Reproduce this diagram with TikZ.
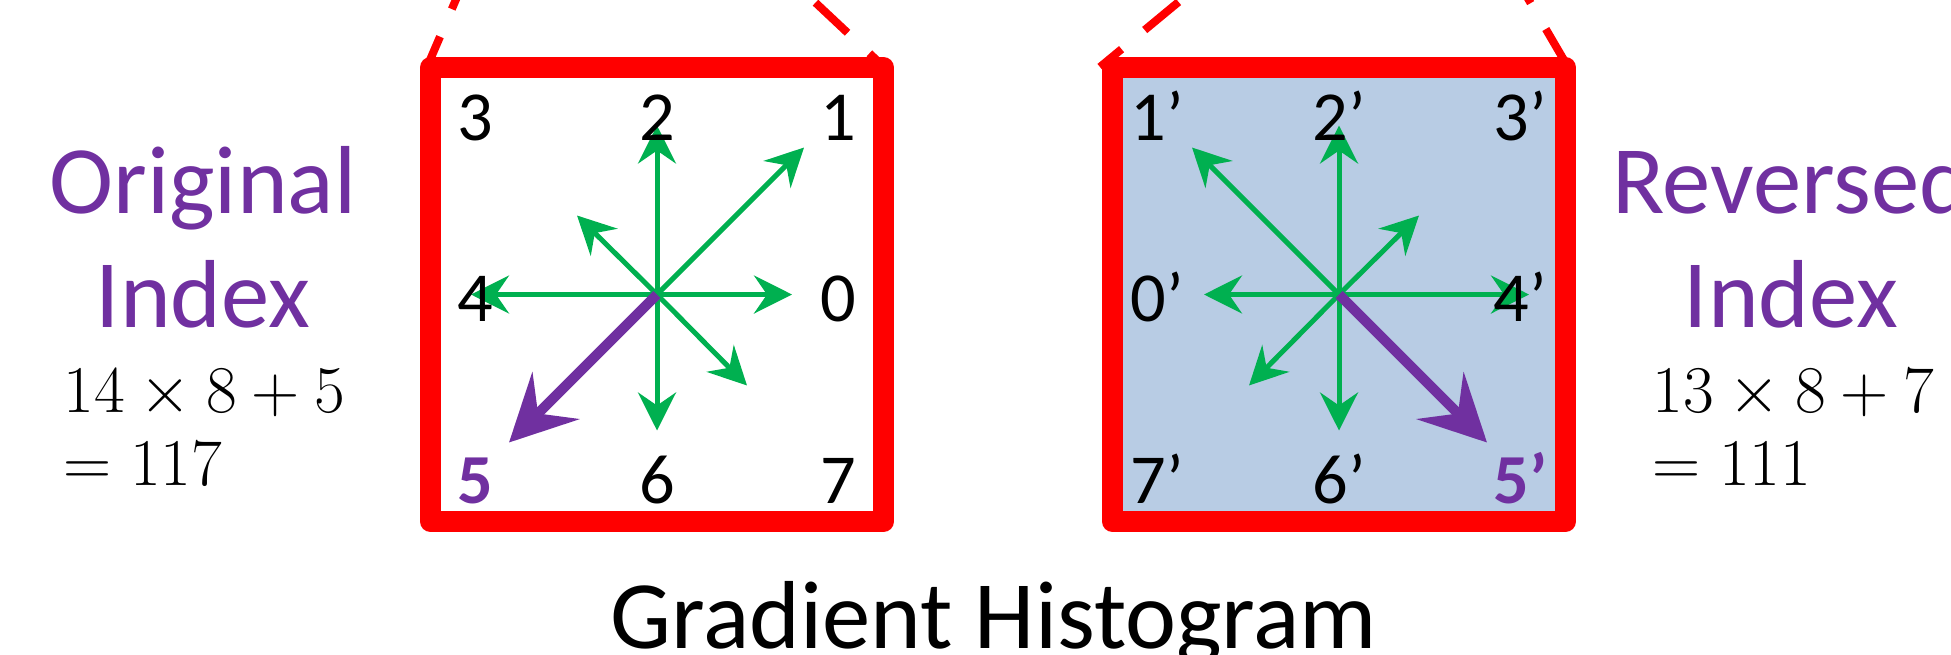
\RequirePackage{fix-cm}
\documentclass[tikz,border=0pt]{standalone}
\usepackage{amsmath}
\usepackage[no-math]{fontspec}
\setmainfont{Carlito}
\usepackage{tikz}
\usetikzlibrary{arrows.meta}

\definecolor{histred}{HTML}{FF0000}
\definecolor{histgreen}{HTML}{00B050}
\definecolor{histpurple}{HTML}{7030A0}
\definecolor{histblue}{HTML}{B8CCE4}

\begin{document}
\begin{tikzpicture}[
  bigtext/.style={font=\fontsize{27.5}{33}\selectfont, inner sep=0pt, anchor=base},
  mathtext/.style={font=\fontsize{19}{23}\selectfont, inner sep=0pt, anchor=base west},
  binlabel/.style={font=\fontsize{20}{24}\selectfont, inner sep=0pt, anchor=base},
  hotlabel/.style={binlabel, font=\fontsize{20}{24}\selectfont\bfseries, text=histpurple},
  binbox/.style={draw=histred, line width=0.21cm, line join=round},
  zoomline/.style={histred, line width=0.08cm, dash pattern=on 0.44cm off 0.3cm},
  binarrow/.style={histgreen, line width=0.05cm, -{Stealth[length=0.38cm, width=0.38cm, inset=0.13cm]}},
  hotarrow/.style={histpurple, line width=0.1cm, -{Stealth[length=0.66cm, width=0.66cm, inset=0.25cm]}}
]
  \useasboundingbox (0,0) rectangle (19.51,6.54);
  \clip (0,0) rectangle (19.51,6.54);

  % zoom lines coming down from the patch
  \coordinate (ltl) at (4.27,5.87);
  \coordinate (ltr) at (8.84,5.87);
  \coordinate (rtl) at (11.00,5.87);
  \coordinate (rtr) at (15.68,5.87);
  \draw[zoomline, dash phase=0.11cm] (ltl) -- (4.60,6.64);
  \draw[zoomline, dash phase=0.24cm] (ltr) -- (8.02,6.64);
  \draw[zoomline, dash phase=0.16cm] (rtl) -- (11.93,6.64);
  \draw[zoomline] (rtr) -- (15.23,6.64);

  \begin{scope}[xshift=6.57cm, yshift=3.595cm]
    \coordinate (lc) at (0,0);
    \draw[binbox] (-2.265,-2.27) rectangle (2.265,2.27);
    \draw[binarrow] (lc) -- ++(1.35,0);
    \draw[binarrow] (lc) -- ++(1.47,1.47);
    \draw[binarrow] (lc) -- ++(0,1.69);
    \draw[binarrow] (lc) -- ++(-0.80,0.79);
    \draw[binarrow] (lc) -- ++(-1.86,0);
    \draw[binarrow] (lc) -- ++(0,-1.36);
    \draw[binarrow] (lc) -- ++(0.90,-0.91);
    \draw[hotarrow] (lc) -- ++(-1.48,-1.48);
    \node[binlabel] (l3) at (-1.815,1.545) {3};
    \node[binlabel] (l2) at (0,1.545) {2};
    \node[binlabel] (l1) at (1.815,1.545) {1};
    \node[binlabel] (l4) at (-1.815,-0.265) {4};
    \node[binlabel] (l0) at (1.815,-0.265) {0};
    \node[hotlabel] (l5) at (-1.815,-2.085) {5};
    \node[binlabel] (l6) at (0,-2.085) {6};
    \node[binlabel] (l7) at (1.815,-2.085) {7};
  \end{scope}

  \begin{scope}[xshift=13.39cm, yshift=3.595cm]
    \coordinate (rc) at (0,0);
    \draw[binbox, fill=histblue] (-2.265,-2.27) rectangle (2.265,2.27);
    \draw[binarrow] (rc) -- ++(-1.35,0);
    \draw[binarrow] (rc) -- ++(-1.47,1.47);
    \draw[binarrow] (rc) -- ++(0,1.69);
    \draw[binarrow] (rc) -- ++(0.80,0.79);
    \draw[binarrow] (rc) -- ++(1.90,0);
    \draw[binarrow] (rc) -- ++(0,-1.36);
    \draw[binarrow] (rc) -- ++(-0.90,-0.91);
    \draw[hotarrow] (rc) -- ++(1.48,-1.48);
    \node[binlabel] (r1) at (-1.815,1.545) {1’};
    \node[binlabel] (r2) at (0,1.545) {2’};
    \node[binlabel] (r3) at (1.815,1.545) {3’};
    \node[binlabel] (r0) at (-1.815,-0.265) {0’};
    \node[binlabel] (r4) at (1.815,-0.265) {4’};
    \node[binlabel] (r7) at (-1.815,-2.085) {7’};
    \node[binlabel] (r6) at (0,-2.085) {6’};
    \node[hotlabel] (r5) at (1.815,-2.085) {5’};
  \end{scope}

  \node[bigtext, text=histpurple] (origtop) at (2.03,4.41) {Original};
  \node[bigtext, text=histpurple] (origbot) at (2.03,3.27) {Index};
  \node[mathtext] (origcalc) at (0.63,2.42) {$14\times8+5$};
  \node[mathtext] (origsum) at (0.63,1.69) {$=117$};

  \node[bigtext, text=histpurple] (revtop) at (17.91,4.41) {Reversed};
  \node[bigtext, text=histpurple] (revbot) at (17.91,3.27) {Index};
  \node[mathtext] (revcalc) at (16.52,2.42) {$13\times8+7$};
  \node[mathtext] (revsum) at (16.52,1.69) {$=111$};

  \node[bigtext] (title) at (9.94,0.06) {Gradient Histogram};
\end{tikzpicture}
\end{document}
